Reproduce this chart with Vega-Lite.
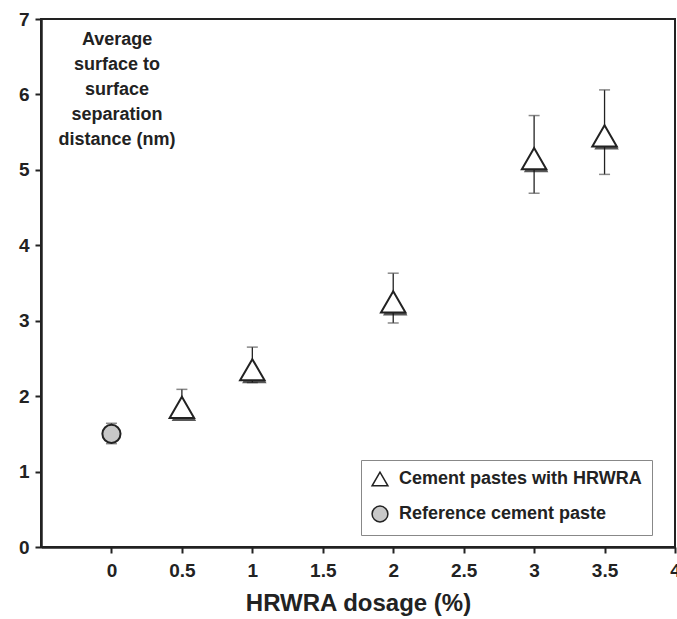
{
  "$schema": "https://vega.github.io/schema/vega-lite/v6.json",
  "width": 634,
  "height": 528,
  "autosize": {"type": "none"},
  "padding": {"left": 41, "top": 19, "right": 2, "bottom": 72},
  "config": {
    "font": "Liberation Sans",
    "view": {"stroke": "#222", "strokeWidth": 2},
    "axis": {
      "domainColor": "#222", "domainWidth": 2.5, "tickColor": "#222", "tickWidth": 2, "tickSize": 6,
      "labelFont": "Liberation Sans", "labelFontWeight": "bold", "labelFontSize": 19, "labelColor": "#222",
      "grid": false, "labelFlush": false, "format": "~g"
    }
  },
  "data": {"values": [
    {"x": 0, "y": 1.5, "lo": 1.37, "hi": 1.64, "series": "Reference cement paste"},
    {"x": 0.5, "y": 1.85, "lo": 1.71, "hi": 2.09, "series": "Cement pastes with HRWRA"},
    {"x": 1, "y": 2.35, "lo": 2.18, "hi": 2.65, "series": "Cement pastes with HRWRA"},
    {"x": 2, "y": 3.25, "lo": 2.97, "hi": 3.63, "series": "Cement pastes with HRWRA"},
    {"x": 3, "y": 5.15, "lo": 4.69, "hi": 5.72, "series": "Cement pastes with HRWRA"},
    {"x": 3.5, "y": 5.45, "lo": 4.94, "hi": 6.06, "series": "Cement pastes with HRWRA"}
  ]},
  "layer": [
    {
      "mark": {"type": "rule", "color": "#222", "strokeWidth": 1.3},
      "encoding": {
        "x": {"field": "x", "type": "quantitative", "scale": {"domain": [-0.5, 4], "nice": false, "zero": false},
          "axis": {"values": [0, 0.5, 1, 1.5, 2, 2.5, 3, 3.5, 4], "format": "~g", "title": "HRWRA dosage (%)", "titleFontSize": 24, "titleFontWeight": "bold", "titleColor": "#222", "titlePadding": 11, "labelPadding": 8}},
        "y": {"field": "lo", "type": "quantitative", "scale": {"domain": [0, 7], "nice": false},
          "axis": {"values": [0, 1, 2, 3, 4, 5, 6, 7], "format": "~g", "title": null, "labelPadding": 6}},
        "y2": {"field": "hi"}
      }
    },
    {
      "mark": {"type": "tick", "orient": "horizontal", "color": "#555", "size": 11, "thickness": 1.5},
      "encoding": {"x": {"field": "x", "type": "quantitative"}, "y": {"field": "lo", "type": "quantitative"}}
    },
    {
      "mark": {"type": "tick", "orient": "horizontal", "color": "#555", "size": 11, "thickness": 1.5},
      "encoding": {"x": {"field": "x", "type": "quantitative"}, "y": {"field": "hi", "type": "quantitative"}}
    },
    {
      "transform": [{"filter": "datum.series == 'Cement pastes with HRWRA'"}],
      "mark": {"type": "point", "shape": "triangle-up", "filled": true, "color": "#111", "size": 600, "xOffset": 2, "yOffset": 3},
      "encoding": {"x": {"field": "x", "type": "quantitative"}, "y": {"field": "y", "type": "quantitative"}}
    },
    {
      "transform": [{"filter": "datum.series == 'Cement pastes with HRWRA'"}],
      "mark": {"type": "point", "filled": true, "stroke": "#222", "strokeOpacity": 1, "strokeWidth": 2, "opacity": 1, "size": 600},
      "encoding": {
        "x": {"field": "x", "type": "quantitative"},
        "y": {"field": "y", "type": "quantitative"},
        "shape": {"field": "series", "type": "nominal",
          "scale": {"domain": ["Cement pastes with HRWRA", "Reference cement paste"], "range": ["triangle-up", "circle"]},
          "legend": {"title": null, "orient": "none", "legendX": 320, "legendY": 441,
            "strokeColor": "#888", "fillColor": "white", "padding": 10, "rowPadding": 14,
            "labelFont": "Liberation Sans", "labelFontSize": 18, "labelFontWeight": "bold", "labelColor": "#222",
            "symbolSize": 250, "labelOffset": 10, "labelLimit": 400,
            "encode": {"symbols": {"update": {"stroke": {"value": "#222"}, "strokeWidth": {"value": 1.5}}}}}},
        "fill": {"field": "series", "type": "nominal",
          "scale": {"domain": ["Cement pastes with HRWRA", "Reference cement paste"], "range": ["white", "#c8c8c8"]},
          "legend": null}
      }
    },
    {
      "transform": [{"filter": "datum.series == 'Reference cement paste'"}],
      "mark": {"type": "point", "filled": true, "stroke": "#222", "strokeOpacity": 1, "strokeWidth": 2, "opacity": 1, "size": 330},
      "encoding": {
        "x": {"field": "x", "type": "quantitative"},
        "y": {"field": "y", "type": "quantitative"},
        "shape": {"field": "series", "type": "nominal"},
        "fill": {"field": "series", "type": "nominal", "legend": null}
      }
    },
    {
      "data": {"values": [{"x": 0.04, "y": 6.72, "label": ["Average", "surface to", "surface", "separation", "distance (nm)"]}]},
      "mark": {"type": "text", "font": "Liberation Sans", "fontWeight": "bold", "fontSize": 18, "color": "#222", "align": "center", "baseline": "middle", "lineHeight": 25},
      "encoding": {"x": {"field": "x", "type": "quantitative"}, "y": {"field": "y", "type": "quantitative"}, "text": {"field": "label"}}
    }
  ]
}
